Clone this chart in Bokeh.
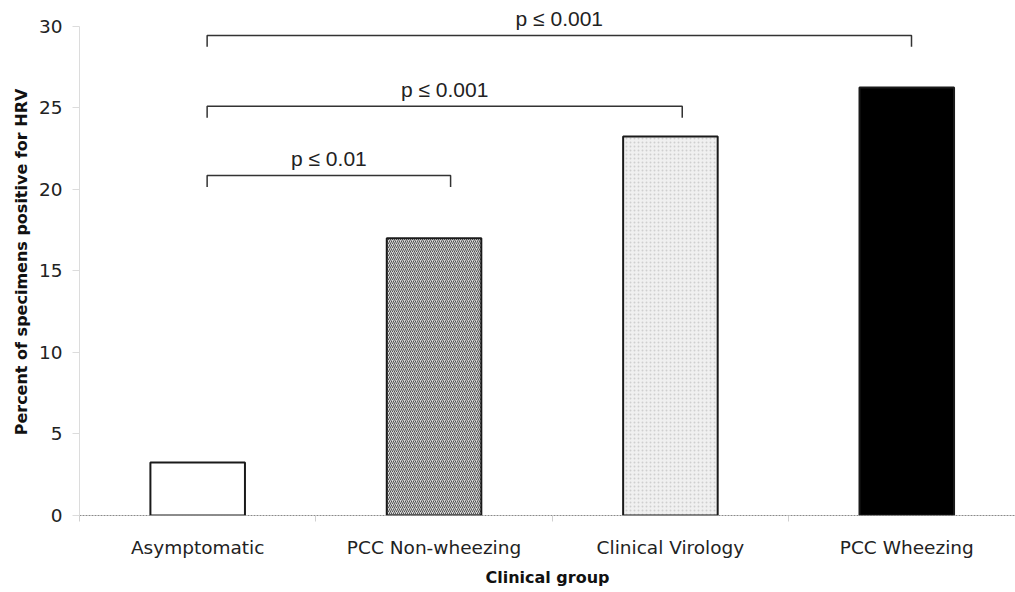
from bokeh.plotting import figure
from bokeh.models import Range1d, FixedTicker, ColumnDataSource
from bokeh.core.properties import value
from bokeh.embed import file_html
from bokeh.resources import INLINE

# ---- data ----
categories = ["Asymptomatic", "PCC Non-wheezing", "Clinical Virology", "PCC Wheezing"]
percent_positive = [3.25, 17.0, 23.25, 26.25]
y_ticks = [0, 5, 10, 15, 20, 25, 30]

comparison_start = [0.04, 0.04, 0.04]
comparison_end = [1.07, 2.05, 3.02]
comparison_level = [20.85, 25.1, 29.45]
comparison_label = ["p \u2264 0.01", "p \u2264 0.001", "p \u2264 0.001"]

# ---- styles ----
bar_fill = ["#ffffff", "#d8d8d8", "#f0f0f0", "#000000"]
bar_hatch = [" ", "/", ".", " "]
bar_hatch_color = ["#ffffff", "#505050", "#cfcfcf", "#000000"]

xs = list(range(len(categories)))
src = ColumnDataSource(dict(x=xs, top=percent_positive, fill=bar_fill,
                            hatch=bar_hatch, hcolor=bar_hatch_color))

p = figure(width=1015, height=592, output_backend="svg", toolbar_location=None,
           x_range=Range1d(-0.5, 3.46), y_range=Range1d(0, 31.1),
           min_border_left=79, min_border_right=0, min_border_top=8, min_border_bottom=77)
p.outline_line_color = None
p.xgrid.visible = False
p.ygrid.visible = False
p.background_fill_color = "white"

p.vbar(x="x", top="top", bottom=0, width=0.40, source=src,
       fill_color="fill", line_color="#1a1a1a", line_width=2,
       hatch_pattern="hatch", hatch_color="hcolor", hatch_scale=4, hatch_weight=1.0)

# significance brackets
bx, by = [], []
drop = 0.7
for s, e, lv in zip(comparison_start, comparison_end, comparison_level):
    bx.append([s, s, e, e])
    by.append([lv - drop, lv, lv, lv - drop])
p.multi_line(xs=bx, ys=by, line_color="#333333", line_width=1.5)

lx = [(s + e) / 2 for s, e in zip(comparison_start, comparison_end)]
ly = [lv + 1.05 for lv in comparison_level]
p.text(x=lx, y=ly, text=comparison_label, text_align="center", text_baseline="middle",
       text_font=value("Liberation Sans"), text_font_size="21px", text_color="#222222")

# y axis
ya = p.yaxis[0]
ya.ticker = FixedTicker(ticks=y_ticks)
ya.bounds = (0, 30)
ya.axis_line_color = "#dcdcdc"
ya.major_tick_line_color = "#dcdcdc"
ya.major_tick_out = 7
ya.major_tick_in = 0
ya.minor_tick_line_color = None
ya.major_label_standoff = 10
ya.major_label_text_font = "DejaVu Sans"
ya.major_label_text_font_size = "18.5px"
ya.major_label_text_color = "#222222"
ya.axis_label = "Percent of specimens positive for HRV"
ya.axis_label_text_font = "DejaVu Sans"
ya.axis_label_text_font_style = "bold"
ya.axis_label_text_font_size = "16px"
ya.axis_label_text_color = "#111111"
ya.axis_label_standoff = 5

# x axis
xa = p.xaxis[0]
xa.ticker = FixedTicker(ticks=xs, minor_ticks=[i - 0.5 for i in range(len(categories) + 1)])
xa.major_label_overrides = {i: c for i, c in enumerate(categories)}
xa.axis_line_color = "#8a8a8a"
xa.axis_line_dash = "2 1"
xa.axis_line_width = 1
xa.major_tick_line_color = None
xa.major_tick_out = 0
xa.major_tick_in = 0
xa.minor_tick_line_color = "#d0d0d0"
xa.minor_tick_out = 6
xa.minor_tick_in = 0
xa.major_label_standoff = 15
xa.major_label_text_font = "DejaVu Sans"
xa.major_label_text_font_size = "18.5px"
xa.major_label_text_color = "#222222"
xa.axis_label = "Clinical group"
xa.axis_label_text_font = "DejaVu Sans"
xa.axis_label_text_font_style = "bold"
xa.axis_label_text_font_size = "16px"
xa.axis_label_text_color = "#111111"
xa.axis_label_standoff = 7

open("out.html", "w").write(file_html(p, INLINE))
